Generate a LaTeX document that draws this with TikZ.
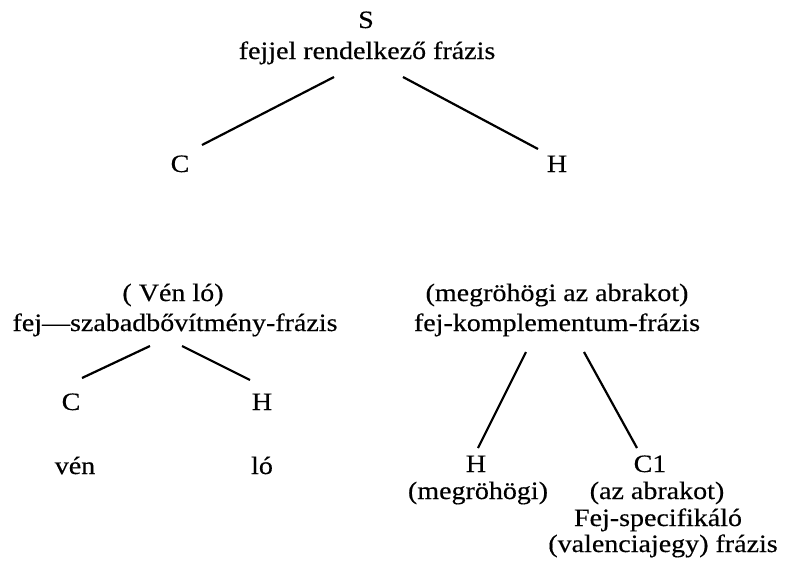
\documentclass[tikz,border=0pt]{standalone}
\usepackage{fontspec}
\setmainfont{Liberation Serif}[FakeStretch=1.12,FakeBold=0.4]
\usetikzlibrary{calc}
\begin{document}
\begin{tikzpicture}[x=1pt,y=-1pt,
  lbl/.style={anchor=base,inner sep=0pt,font=\fontsize{25}{29}\selectfont},
  edge/.style={line width=2.2pt,line cap=butt}]
\useasboundingbox (0,0) rectangle (789,560);
% top
\node[lbl] (s) at (366,28) {S};
\node[lbl] (sf) at (367,59) {fejjel rendelkező frázis};
\node[lbl] (c) at (180,172) {C};
\node[lbl] (h) at (557,172) {H};
\draw[edge] ($(sf.base)+(-33,18)$) -- ($(c.base)+(22,-27)$);
\draw[edge] ($(sf.base)+(36,18)$) -- ($(h.base)+(-19,-23)$);
% left subtree
\node[lbl] (vl) at (173,301) {( Vén ló)};
\node[lbl] (vlf) at (175,331) {fej—szabadbővítmény-frázis};
\node[lbl] (lc) at (71,410) {C};
\node[lbl] (lh) at (262,410) {H};
\node[lbl] (ven) at (75,474) {vén};
\node[lbl] (lo) at (262,474) {ló};
\draw[edge] ($(vlf.base)+(-25,15)$) -- ($(lc.base)+(11,-32)$);
\draw[edge] ($(vlf.base)+(7,15)$) -- ($(lh.base)+(-12,-30)$);
% right subtree
\node[lbl] (ma) at (557,301) {(megröhögi az abrakot)};
\node[lbl] (mf) at (557,331) {fej-komplementum-frázis};
\node[lbl] (rh) at (476,472) {H};
\node[lbl] (rhm) at (478,499) {(megröhögi)};
\node[lbl] (rc) at (650,472) {C1};
\node[lbl] (rca) at (657,499) {(az abrakot)};
\node[lbl] (rcf) at (658,526) {Fej-specifikáló};
\node[lbl] (rcv) at (663,552) {(valenciajegy) frázis};
\draw[edge] ($(mf.base)+(-31,21)$) -- ($(rh.base)+(2,-24)$);
\draw[edge] ($(mf.base)+(27,21)$) -- ($(rc.base)+(-13,-24)$);
\end{tikzpicture}
\end{document}
